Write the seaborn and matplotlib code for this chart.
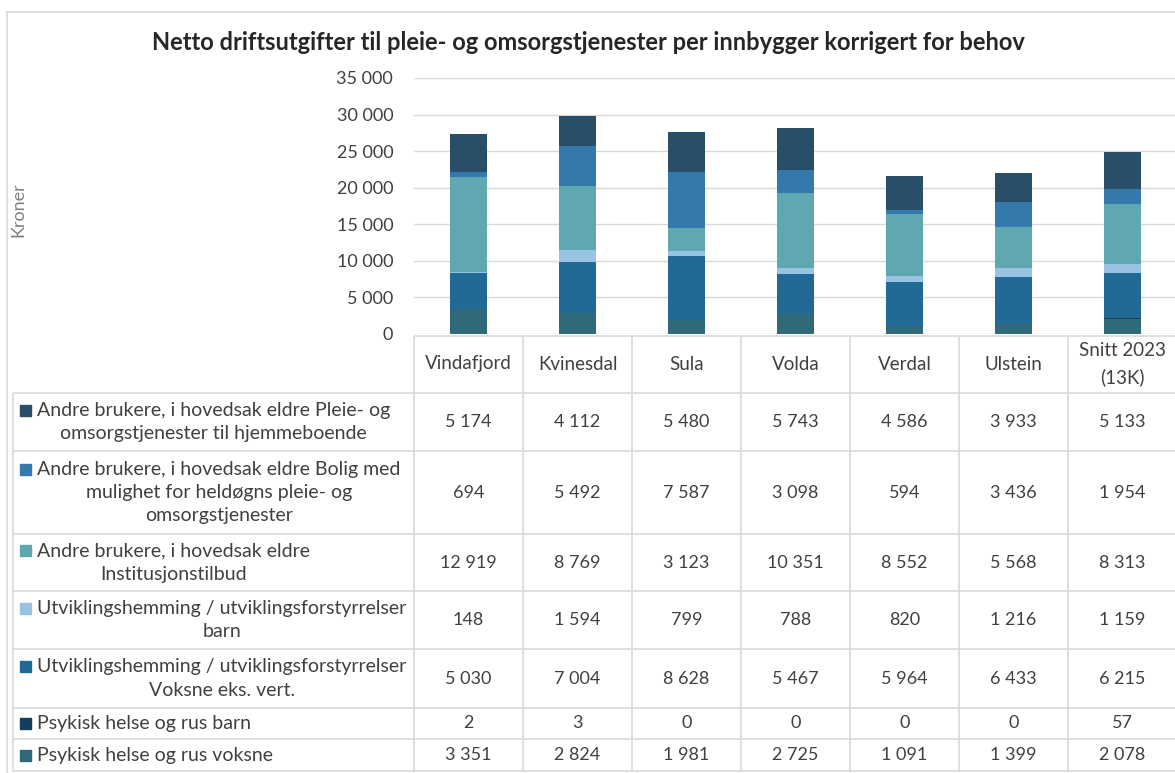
import numpy as np
import pandas as pd
import seaborn as sns
import matplotlib.pyplot as plt
from matplotlib.patches import Rectangle

# ------------------------------------------
# DATA (rekkefølge som i tabellen, øverst -> nederst)
# ------------------------------------------

kommuner = ["Vindafjord", "Kvinesdal", "Sula", "Volda", "Verdal", "Ulstein", "Snitt 2023\n(13K)"]

hjemme = [5174, 4112, 5480, 5743, 4586, 3933, 5133]
bolig = [694, 5492, 7587, 3098, 594, 3436, 1954]
institusjon = [12919, 8769, 3123, 10351, 8552, 5568, 8313]
utv_barn = [148, 1594, 799, 788, 820, 1216, 1159]
utv_voksne = [5030, 7004, 8628, 5467, 5964, 6433, 6215]
psyk_barn = [2, 3, 0, 0, 0, 0, 57]
psyk_voksne = [3351, 2824, 1981, 2725, 1091, 1399, 2078]

serie_navn = [
    "Andre brukere, i hovedsak eldre Pleie- og\nomsorgstjenester til hjemmeboende",
    "Andre brukere, i hovedsak eldre Bolig med\nmulighet for heldøgns pleie- og\nomsorgstjenester",
    "Andre brukere, i hovedsak eldre\nInstitusjonstilbud",
    "Utviklingshemming / utviklingsforstyrrelser\nbarn",
    "Utviklingshemming / utviklingsforstyrrelser\nVoksne eks. vert.",
    "Psykisk helse og rus barn",
    "Psykisk helse og rus voksne",
]
serie_verdier = [hjemme, bolig, institusjon, utv_barn, utv_voksne, psyk_barn, psyk_voksne]
farger = ["#284e68", "#3379ac", "#5fa8b2", "#99c3e3", "#216a95", "#153d5c", "#2f697a"]

yticks = [0, 5000, 10000, 15000, 20000, 25000, 30000, 35000]

# ------------------------------------------
# LAYOUT (pixels)
# ------------------------------------------

W, H = 1175, 773
col_left = 414
col_w = 109
label_left = 13
y_zero, y_top = 334, 78
header_top = 336
row_edges = [393, 451, 534, 591, 649, 708, 739, 771]

txt = "#404040"
grid_c = "#d9d9d9"
fs_lab = 14
fs_head = 13.5
fs_num = 13

sns.set_style("white")
plt.rcParams["font.family"] = ["Lato", "DejaVu Sans"]

fig = plt.figure(figsize=(W / 100, H / 100), dpi=100)

# background axes in pixel coords for table and frame
bg = fig.add_axes([0, 0, 1, 1])
bg.set_xlim(0, W)
bg.set_ylim(H, 0)
bg.axis("off")

# chart axes
ax = fig.add_axes([col_left / W, (H - y_zero) / H, 7 * col_w / W, (y_zero - y_top) / H])

# cumulative sums from bottom layer (last series) upwards
df = pd.DataFrame({"kommune": kommuner})
cum = np.zeros(len(kommuner))
for i in range(len(serie_verdier) - 1, -1, -1):
    cum = cum + np.array(serie_verdier[i])
    df[f"c{i}"] = cum

# tallest cumulative first, lower layers drawn over it
for i in range(len(serie_verdier)):
    sns.barplot(data=df, x="kommune", y=f"c{i}", order=kommuner, color=farger[i],
                width=0.34, saturation=1, errorbar=None, ax=ax, zorder=3,
                linewidth=0, edgecolor="none")

ax.set_xlim(-0.5, 6.5)
ax.set_ylim(0, 35000)
ax.set_yticks(yticks)
ax.set_yticklabels([f"{v:,}".replace(",", " ") for v in yticks], color=txt, fontsize=fs_num)
ax.tick_params(axis="y", length=0, pad=15)
ax.set_xticks([])
ax.set_xlabel("")
ax.set_ylabel("")
ax.grid(axis="y", color=grid_c, lw=1, zorder=0)
ax.set_axisbelow(True)
for s in ax.spines.values():
    s.set_visible(False)
ax.patch.set_alpha(0)

# ------------------------------------------
# FRAME, TITLE, Y LABEL
# ------------------------------------------

bg.plot([7, W], [12, 12], color=grid_c, lw=1.2)
bg.plot([7, 7], [12, H], color=grid_c, lw=1.2)

bg.text(588, 42, "Netto driftsutgifter til pleie- og omsorgstjenester per innbygger korrigert for behov",
        ha="center", va="center", fontsize=17, fontweight="bold", color="#262626")
bg.text(18, 210, "Kroner", rotation=90, ha="center", va="center", fontsize=13, color="#808080")

# ------------------------------------------
# DATA TABLE
# ------------------------------------------

right = col_left + 7 * col_w
bg.hlines(header_top, col_left, right, color=grid_c, lw=1.2)
bg.hlines(row_edges, label_left, right, color=grid_c, lw=1.2)
for k in range(8):
    bg.vlines(col_left + k * col_w, header_top, row_edges[-1], color=grid_c, lw=1.2)
bg.vlines(label_left, row_edges[0], row_edges[-1], color=grid_c, lw=1.2)

# header
for k, navn in enumerate(kommuner):
    cx = col_left + (k + 0.5) * col_w
    linjer = navn.split("\n")
    if len(linjer) == 1:
        bg.text(cx, 364, navn, ha="center", va="center", fontsize=fs_head, color=txt)
    else:
        bg.text(cx, 350, linjer[0], ha="center", va="center", fontsize=fs_head, color=txt)
        bg.text(cx, 377, linjer[1], ha="center", va="center", fontsize=fs_head, color=txt)

renderer = fig.canvas.get_renderer()
line_h = 23.5
for r, (navn, verdier, farge) in enumerate(zip(serie_navn, serie_verdier, farger)):
    top, bot = row_edges[r], row_edges[r + 1]
    cy = (top + bot) / 2
    linjer = navn.split("\n")
    y0 = cy - (len(linjer) - 1) / 2 * line_h
    t0 = bg.text(37, y0, linjer[0], ha="left", va="center", fontsize=fs_lab, color=txt)
    bb = t0.get_window_extent(renderer=renderer)
    mid = 37 + bb.width / 2
    for j, linje in enumerate(linjer[1:], start=1):
        bg.text(mid, y0 + j * line_h, linje, ha="center", va="center", fontsize=fs_lab, color=txt)
    bg.add_patch(Rectangle((20, y0 - 5.5), 11, 11, color=farge))
    for k, v in enumerate(verdier):
        cx = col_left + (k + 0.5) * col_w
        bg.text(cx, cy, f"{v:,}".replace(",", " "), ha="center", va="center", fontsize=fs_num, color=txt)

fig.savefig("out.png", dpi=100)
